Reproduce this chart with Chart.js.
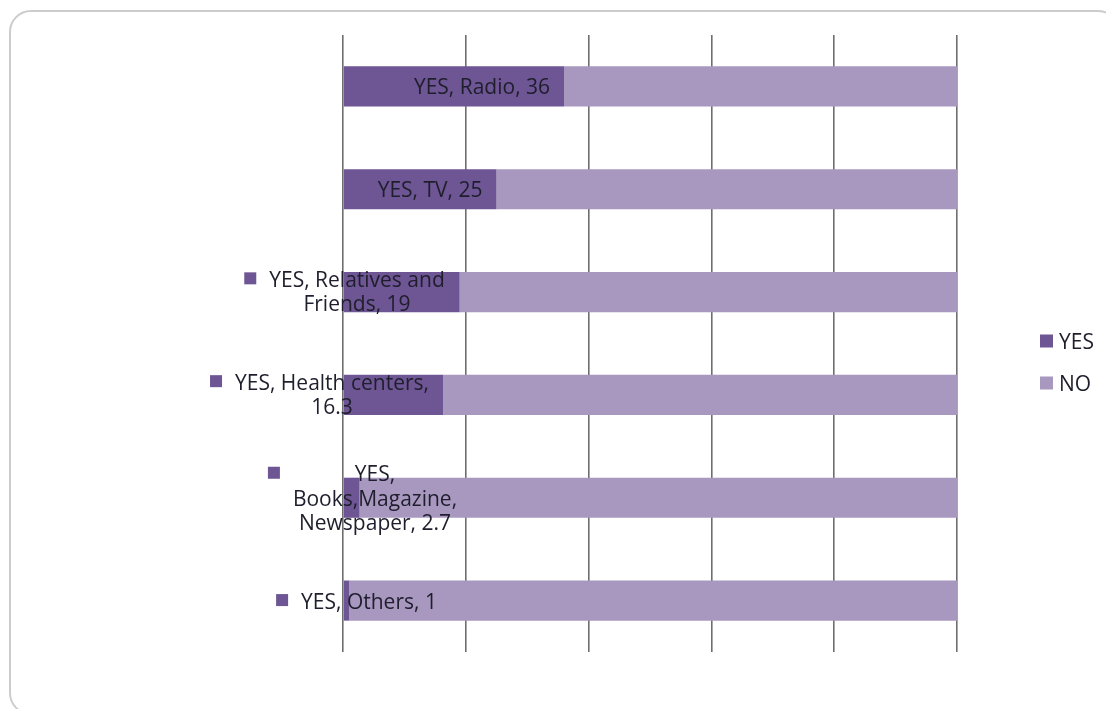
<!DOCTYPE html>
<html>
<head>
<meta charset="utf-8">
<script src="https://cdn.jsdelivr.net/npm/chart.js@4.4.1/dist/chart.umd.min.js"></script>
<style>
  html, body { margin: 0; padding: 0; background: #ffffff; }
  body { width: 1106px; height: 709px; position: relative; overflow: hidden; }
  #frame { position: absolute; left: 9px; top: 10px; width: 1111px; height: 705px;
           border: 2px solid #cccccc; border-radius: 22px; box-sizing: border-box; }
  #wrap { position: absolute; left: 0; top: 0; width: 1106px; height: 709px; }
</style>
</head>
<body>
<div id="frame"></div>
<div id="wrap"><canvas id="c" width="1106" height="709"></canvas></div>
<script>
const categories = ['Radio', 'TV', 'Relatives and Friends', 'Health centers', 'Books,Magazine, Newspaper', 'Others'];
const yesValues = [36, 25, 19, 16.3, 2.7, 1];
const noValues = [64, 75, 81, 83.7, 97.3, 99];
const seriesNames = ['YES', 'NO'];
const xTicks = [0, 20, 40, 60, 80, 100];

const YES_COLOR = '#6e5594';
const NO_COLOR = '#a898c0';
const TEXT_COLOR = '#1e1e2c';
const FONT = '21px "Open Sans", Lato, sans-serif';
const TEXT_SHIFT = 2;

// label layout (style only): inside-end labels, or wrapped labels with a legend key
const labelLayout = [
  { mode: 'insideEnd', pad: 14 },
  { mode: 'insideEnd', pad: 14 },
  { mode: 'wrapped', breaks: [3], dx: 14, dy: -1 },
  { mode: 'wrapped', breaks: [3], dx: -11, dy: -1 },
  { mode: 'wrapped', breaks: [1, 1], dx: 32, dy: 0 },
  { mode: 'wrapped', breaks: [], dx: 26, dy: 0 }
];

function splitLines(text, breaks) {
  const tokens = text.split(' ');
  const lines = [];
  let i = 0;
  for (const b of breaks) { lines.push(tokens.slice(i, i + b).join(' ')); i += b; }
  if (i < tokens.length) lines.push(tokens.slice(i).join(' '));
  return lines;
}

const labelPlugin = {
  id: 'excelLabels',
  afterDatasetsDraw(chart) {
    const ctx = chart.ctx;
    const xs = chart.scales.x;
    const meta = chart.getDatasetMeta(0);
    ctx.save();
    ctx.font = FONT;
    ctx.fillStyle = TEXT_COLOR;
    ctx.textBaseline = 'middle';
    categories.forEach((cat, i) => {
      const val = yesValues[i];
      const text = seriesNames[0] + ', ' + cat + ', ' + val;
      const bar = meta.data[i];
      const cy = bar.y;
      const L = labelLayout[i];
      if (L.mode === 'insideEnd') {
        ctx.textAlign = 'right';
        ctx.fillStyle = TEXT_COLOR;
        ctx.fillText(text, xs.getPixelForValue(val) - L.pad, cy + TEXT_SHIFT);
      } else {
        const lines = splitLines(text, L.breaks);
        const lh = 24.5;
        const cx = chart.chartArea.left + L.dx;
        const top = cy + L.dy - (lines.length - 1) * lh / 2;
        ctx.textAlign = 'center';
        let wMax = 0;
        lines.forEach((ln, k) => {
          ctx.fillStyle = TEXT_COLOR;
          ctx.fillText(ln, cx, top + k * lh + TEXT_SHIFT);
          wMax = Math.max(wMax, ctx.measureText(ln).width);
        });
        const mx = cx - wMax / 2 - 12 - 13;
        ctx.fillStyle = YES_COLOR;
        ctx.fillRect(mx, top - 6.5, 12, 12);
      }
    });
    // legend
    const lx = chart.chartArea.right + 83;
    const ly0 = (chart.chartArea.top + chart.chartArea.bottom) / 2 - 2.5;
    ctx.font = '21px "Open Sans", Lato, sans-serif';
    [YES_COLOR, NO_COLOR].forEach((col, k) => {
      const y = ly0 + k * 42;
      ctx.fillStyle = col;
      ctx.fillRect(lx, y - 6.5, 13, 13);
      ctx.fillStyle = TEXT_COLOR;
      ctx.textAlign = 'left';
      ctx.fillText(seriesNames[k], lx + 19, y + TEXT_SHIFT);
    });
    ctx.restore();
  }
};

new Chart(document.getElementById('c'), {
  type: 'bar',
  data: {
    labels: categories,
    datasets: [
      { label: seriesNames[0], data: yesValues, backgroundColor: YES_COLOR, borderWidth: 0,
        barPercentage: 0.39, categoryPercentage: 1 },
      { label: seriesNames[1], data: noValues, backgroundColor: NO_COLOR, borderWidth: 0,
        barPercentage: 0.39, categoryPercentage: 1 }
    ]
  },
  options: {
    indexAxis: 'y',
    responsive: false,
    animation: false,
    devicePixelRatio: 1,
    layout: { padding: { left: 343, right: 149, top: 35, bottom: 57 } },
    plugins: { legend: { display: false }, tooltip: { enabled: false } },
    scales: {
      x: {
        stacked: true, min: 0, max: 100,
        afterBuildTicks: (s) => { s.ticks = xTicks.map(v => ({ value: v })); },
        ticks: { display: false },
        grid: { color: '#6e6e6e', lineWidth: 1.6, drawTicks: false },
        border: { display: false }
      },
      y: {
        stacked: true, display: false
      }
    }
  },
  plugins: [labelPlugin]
});
</script>
</body>
</html>
